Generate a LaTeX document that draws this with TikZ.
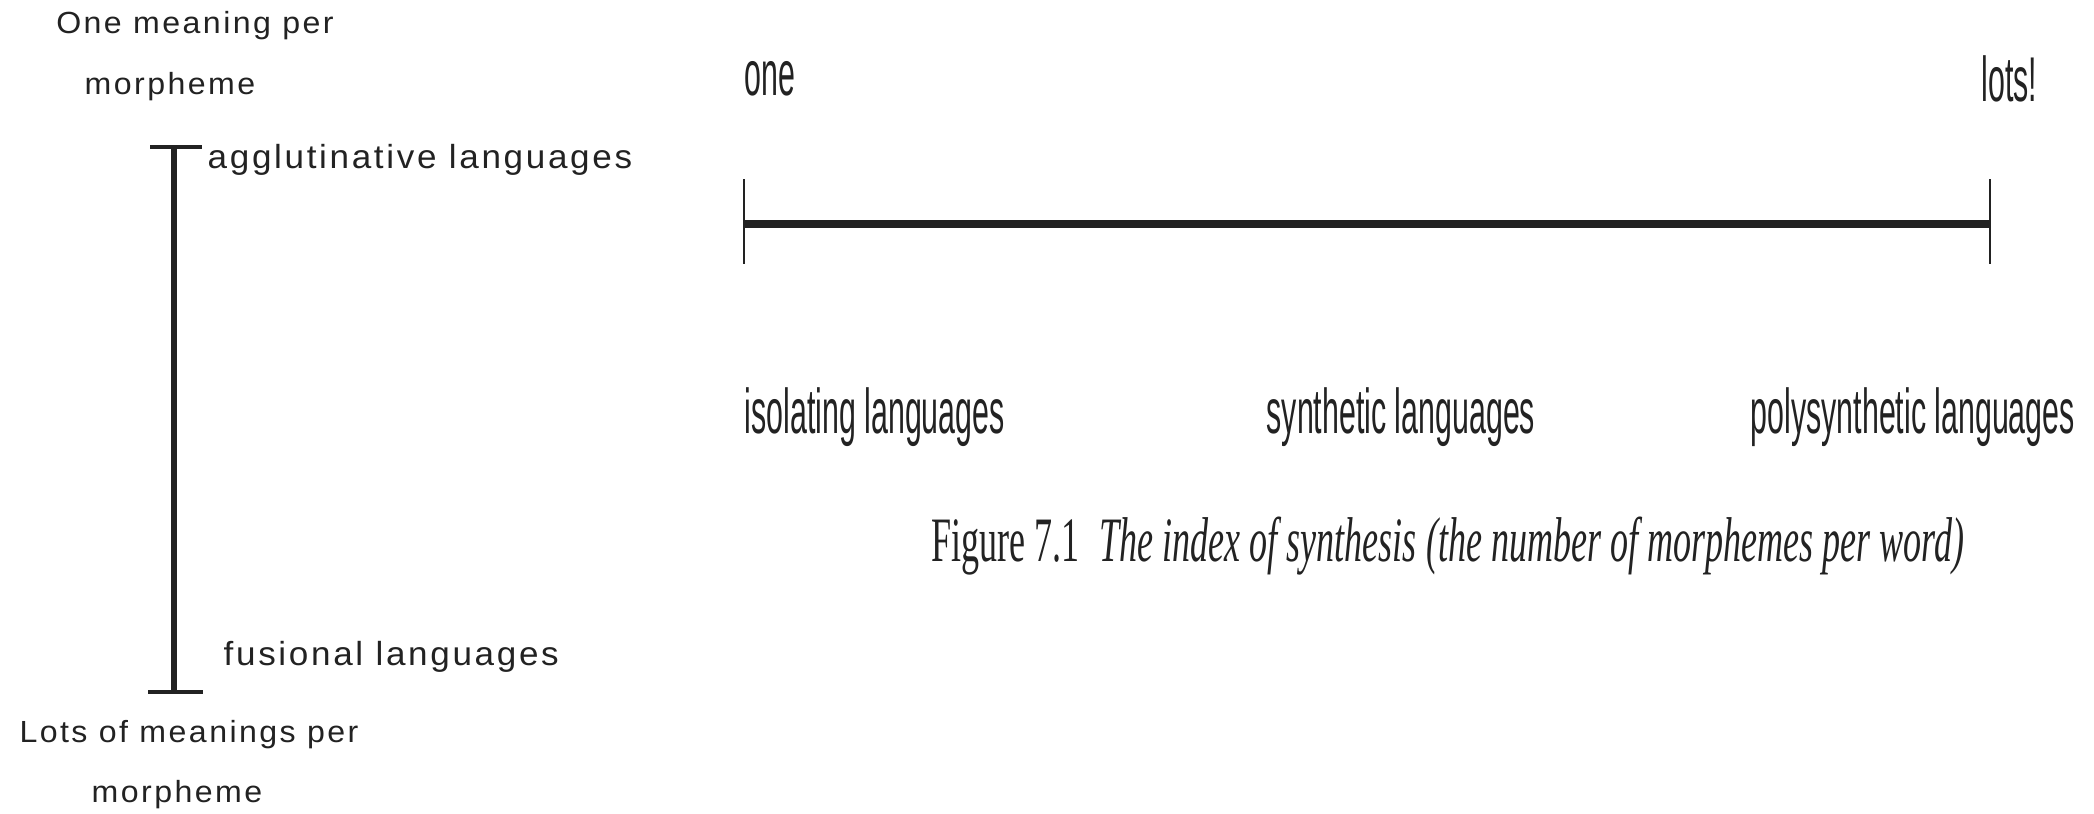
\documentclass[tikz,border=0pt]{standalone}
\usepackage{fontspec}
\setmainfont{Liberation Sans}
\newfontfamily\wideface[LetterSpace=8, FakeStretch=1.05]{Liberation Sans}
\newfontfamily\narrowface[FakeStretch=0.48]{Liberation Sans}
\newfontfamily\captionface[FakeStretch=0.57]{Liberation Serif}
\usetikzlibrary{calc, positioning}
\definecolor{ink}{HTML}{222222}

\tikzset{
    sidelabel/.style={inner sep=0pt, text=ink, font=\wideface\fontsize{9.5}{11}\selectfont},
    endlabel/.style={inner sep=0pt, text=ink, font=\wideface\fontsize{8.7}{10}\selectfont},
    scalelabel/.style={inner sep=0pt, text=ink, font=\narrowface\fontsize{18}{20}\selectfont},
}

\begin{document}
\begin{tikzpicture}
        \useasboundingbox (0,0) rectangle (20.94,-8.13);

        % left scale: meanings per morpheme
        \coordinate (Top) at (1.74,-1.47);
        \coordinate (Bot) at (1.74,-6.92);
        \draw[ink, line width=1.5pt] (Top) -- (Bot);
        \draw[ink, line width=1.1pt] ($(Top)+(-0.24,0)$) -- ($(Top)+(0.28,0)$);
        \draw[ink, line width=1.1pt] ($(Bot)+(-0.26,0)$) -- ($(Bot)+(0.29,0)$);

        \node[endlabel] (oneA) at (1.95,-0.26) {One meaning per};
        \node[endlabel] (oneB) at (1.70,-0.87) {morpheme};
        \node[sidelabel, anchor=west] (agg) at (2.07,-1.60) {agglutinative languages};
        \node[sidelabel, anchor=west] (fus) at (2.23,-6.57) {fusional languages};
        \node[endlabel] (lotsA) at (1.89,-7.35) {Lots of meanings per};
        \node[endlabel] (lotsB) at (1.77,-7.95) {morpheme};

        % right scale: morphemes per word
        \coordinate (L) at (7.44,-2.24);
        \coordinate (R) at (19.90,-2.24);
        \draw[ink, line width=2.5pt] (L) -- (R);
        \draw[ink, line width=0.6pt] ($(L)+(0,0.45)$) -- ($(L)+(0,-0.40)$);
        \draw[ink, line width=0.6pt] ($(R)+(0,0.45)$) -- ($(R)+(0,-0.40)$);

        \node[scalelabel, anchor=west] (one) at (7.44,-0.79) {one};
        \node[scalelabel, anchor=west] (lots) at (19.81,-0.79) {lots!};
        \node[scalelabel, anchor=west] (iso) at (7.44,-4.17) {isolating languages};
        \node[scalelabel, anchor=west] (syn) at (12.66,-4.17) {synthetic languages};
        \node[scalelabel, anchor=west] (poly) at (17.50,-4.17) {polysynthetic languages};

        \node[inner sep=0pt, text=ink, anchor=base west, font=\captionface\fontsize{18}{20}\selectfont]
            (cap) at (9.31,-5.61) {Figure 7.1\, \textit{The index of synthesis (the number of morphemes per word)}};
\end{tikzpicture}
\end{document}
